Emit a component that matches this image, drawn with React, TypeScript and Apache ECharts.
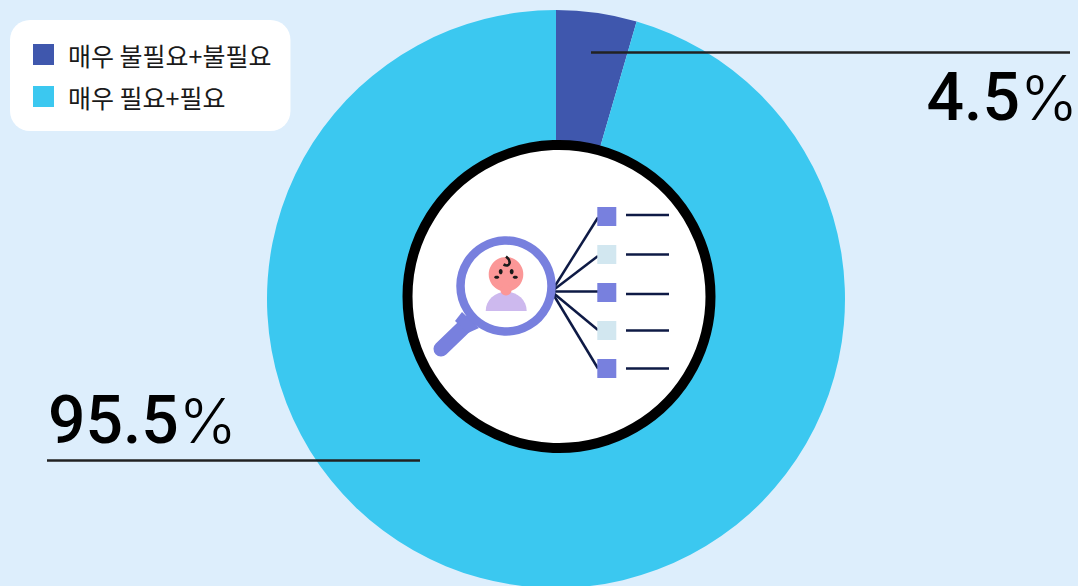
import React, { useEffect, useRef } from "react";
import * as echarts from "echarts";

const categories = ["매우 불필요+불필요", "매우 필요+필요"];
const shareValues = [4.5, 95.5];
const sliceColors = ["#3F57AD", "#3BC8F0"];
const numberWeights = [500, 500];
const squareRows = [216.5, 254.5, 292.5, 330.5, 368.5];
const dashRows = [215, 254.5, 294, 330.5, 368.5];
const squareColors = ["#7880DE", "#D2E7F0", "#7880DE", "#D2E7F0", "#7880DE"];

const Z = 20;
const illustration = (): any[] => {
  const ink = "#0E1A45";
  const violet = "#7880DE";
  const origin = [551.5, 291.5];
  const fanEnds = [217.5, 256, 291.5, 330, 368.5];
  const out: any[] = [
    { type: "line", z: 15, shape: { x1: 591, y1: 52.5, x2: 1070, y2: 52.5 }, style: { stroke: "#222222", lineWidth: 2.4 } },
    { type: "line", z: 15, shape: { x1: 47, y1: 460.5, x2: 420, y2: 460.5 }, style: { stroke: "#222222", lineWidth: 2.4 } },
    { type: "circle", z: Z, shape: { cx: 559, cy: 296.5, r: 151.5 }, style: { fill: "#FFFFFF", stroke: "#000000", lineWidth: 10 } },
    { type: "line", z: Z + 1, shape: { x1: 441, y1: 349, x2: 468, y2: 323 }, style: { stroke: violet, lineWidth: 15, lineCap: "round" } },
    { type: "polygon", z: Z + 1, shape: { points: [[462, 312], [479, 328], [468, 333], [455, 321]] }, style: { fill: violet } },
    { type: "circle", z: Z + 2, shape: { cx: 506, cy: 286, r: 45.5 }, style: { fill: "#FFFFFF", stroke: violet, lineWidth: 8.5 } },
    { type: "sector", z: Z + 3, x: 506.2, y: 311, scaleY: 0.94, shape: { cx: 0, cy: 0, r0: 0, r: 20.5, startAngle: Math.PI, endAngle: Math.PI * 2 }, style: { fill: "#CDB9EE" } },
    { type: "circle", z: Z + 4, shape: { cx: 506, cy: 274.3, r: 17.3 }, style: { fill: "#FB9797" } },
    { type: "circle", z: Z + 4, shape: { cx: 506, cy: 290, r: 5.5 }, style: { fill: "#FB9797" } },
    { type: "ellipse", z: Z + 5, shape: { cx: 500.7, cy: 271.7, rx: 1.9, ry: 2.6 }, style: { fill: "#1A1A1A" } },
    { type: "ellipse", z: Z + 5, shape: { cx: 511.7, cy: 271.7, rx: 1.9, ry: 2.6 }, style: { fill: "#1A1A1A" } },
    { type: "ellipse", z: Z + 5, shape: { cx: 496.7, cy: 277.2, rx: 2.6, ry: 1.5 }, style: { fill: "#1A1A1A" } },
    { type: "ellipse", z: Z + 5, shape: { cx: 515.3, cy: 277.2, rx: 2.6, ry: 1.5 }, style: { fill: "#1A1A1A" } },
    { type: "bezierCurve", z: Z + 5, shape: { x1: 506, y1: 256.5, cpx1: 512, cpy1: 261, cpx2: 510, cpy2: 268, x2: 503.5, y2: 264.5, percent: 1 }, style: { stroke: "#1A1A1A", lineWidth: 2.6, fill: "none" } },
  ];
  squareRows.forEach((c, i) => {
    out.push({ type: "line", z: Z + 1, shape: { x1: origin[0], y1: origin[1], x2: 598, y2: fanEnds[i] }, style: { stroke: ink, lineWidth: 2.5 } });
    out.push({ type: "rect", z: Z + 2, shape: { x: 597.3, y: c - 9.5, width: 19, height: 19 }, style: { fill: squareColors[i] } });
    out.push({ type: "line", z: Z + 1, shape: { x1: 626, y1: dashRows[i], x2: 669, y2: dashRows[i] }, style: { stroke: ink, lineWidth: 2.4 } });
  });
  return out;
};

export default function App() {
  const ref = useRef<HTMLDivElement>(null);
  useEffect(() => {
    document.body.style.margin = "0";
    const chart = echarts.init(ref.current!, undefined, { renderer: "svg" });
    chart.setOption({
      animation: false,
      backgroundColor: "#DDEEFC",
      legend: {
        orient: "vertical",
        left: 10,
        top: 20,
        padding: [22, 19, 22, 23],
        backgroundColor: "#FFFFFF",
        borderRadius: 20,
        itemWidth: 21,
        itemHeight: 21,
        itemGap: 17,
        icon: "rect",
        selectedMode: false,
        data: categories,
        textStyle: { fontFamily: "'Noto Sans CJK KR'", fontSize: 25, lineHeight: 21, color: "#1A1A1A", padding: [0, 0, 0, 9] },
      },
      series: [
        {
          type: "pie",
          center: [556, 299],
          radius: [150, 289],
          startAngle: 90,
          clockwise: true,
          silent: true,
          avoidLabelOverlap: false,
          data: categories.map((name, i) => ({
            name,
            value: shareValues[i],
            itemStyle: { color: sliceColors[i] },
            label: {
              rich: {
                n: { fontFamily: "Roboto", fontSize: 66, fontWeight: numberWeights[i], color: "#000000" },
                p: { fontFamily: "Inter", fontSize: 62, fontWeight: 300, color: "#000000" },
              },
            },
          })),
          label: {
            show: true,
            position: "outside",
            formatter: (p: any) => `{n|${p.value}}{p|%}`,
          },
          labelLine: { show: false },
          labelLayout: (p: any) =>
            p.dataIndex === 0
              ? { x: 1078, y: 97, align: "right", verticalAlign: "middle" }
              : { x: 48, y: 420, align: "left", verticalAlign: "middle" },
        },
      ],
      graphic: { elements: illustration() },
    });
    return () => chart.dispose();
  }, []);
  return <div ref={ref} style={{ width: 1078, height: 586, overflow: "hidden" }} />;
}
